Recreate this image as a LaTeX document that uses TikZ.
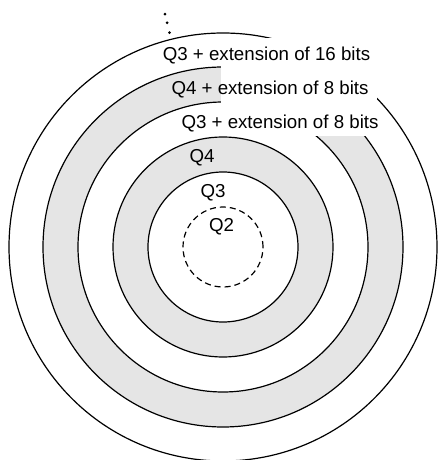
\documentclass[tikz,border=0pt]{standalone}
\usepackage{fontspec}
\setmainfont{Liberation Sans}
\usepackage{tikz}

\begin{document}
\begin{tikzpicture}[x=1pt,y=1pt,
			ring/.style={draw,line width=1.2pt},
			band/.style={fill=gray!20},
			%label/.style={fill=white},
			every node/.style={font=\fontsize{18.7}{22}\selectfont,inner sep=0pt,anchor=base}]
	\useasboundingbox (-223,-213) rectangle (215,247);
	% grey bands
	\fill[band,even odd rule] (0,0) circle (110) circle (75);
	\fill[band,even odd rule] (0,0) circle (180) circle (145);
	\foreach \r in {75,110,145,180,214}
		\draw[ring] (0,0) circle (\r);
	\draw[ring,dash pattern=on 6pt off 4pt] (0,0) circle (40);
	% box behind the long labels
	\fill[white] (-2,111) rectangle (154,209);
	\node (q2) at (-1.5,15) {Q2};
	\node (q3) at (-10,49) {Q3};
	\node (q4) at (-21,84) {Q4};
	\node (ext8a) at (57,118) {Q3 + extension of 8 bits};
	\node (ext8b) at (47,152) {Q4 + extension of 8 bits};
	\node (ext16) at (43.5,186) {Q3 + extension of 16 bits};
	\foreach \r in {221,231,240}
		\fill (104:\r) circle (1.5);
\end{tikzpicture}
\end{document}
